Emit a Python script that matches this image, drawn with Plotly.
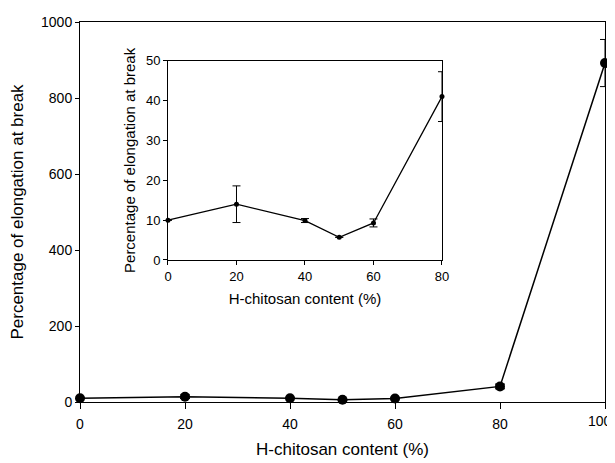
import plotly.graph_objects as go

# Main chart data
content = [0, 20, 40, 50, 60, 80, 100]
elongation = [10, 14, 10, 5.7, 9.4, 41, 892]
elong_err = [0, 4.6, 0.5, 0, 1, 6.25, 62]

# Inset data
inset_content = [0, 20, 40, 50, 60, 80]
inset_elong = [10, 14, 9.9, 5.7, 9.3, 41]
inset_err = [0, 4.6, 0.5, 0, 1, 6.25]

main_ticks_x = [0, 20, 40, 60, 80, 100]
main_ticks_y = [0, 200, 400, 600, 800, 1000]
inset_ticks_x = [0, 20, 40, 60, 80]
inset_ticks_y = [0, 10, 20, 30, 40, 50]

FONT = "Liberation Sans, Arial, sans-serif"

fig = go.Figure()
fig.add_trace(go.Scatter(
    x=content, y=elongation, mode="lines+markers",
    line=dict(color="black", width=1.5),
    marker=dict(color="black", size=10),
    error_y=dict(type="data", array=elong_err, visible=True, color="black", thickness=1, width=5),
    xaxis="x", yaxis="y", showlegend=False, cliponaxis=False,
))
fig.add_trace(go.Scatter(
    x=inset_content, y=inset_elong, mode="lines+markers",
    line=dict(color="black", width=1.3),
    marker=dict(color="black", size=5),
    error_y=dict(type="data", array=inset_err, visible=True, color="black", thickness=1, width=4),
    xaxis="x2", yaxis="y2", showlegend=False, cliponaxis=False,
))

axis_common = dict(showline=True, linecolor="black", linewidth=1, mirror=True,
                   ticks="outside", tickcolor="black", showgrid=False, zeroline=False,
                   automargin=False)

fig.update_layout(
    width=607, height=455,
    margin=dict(l=72, r=10, t=14, b=61),
    paper_bgcolor="white", plot_bgcolor="white",
    font=dict(family=FONT, color="black"),
    xaxis=dict(**axis_common, range=[0, 100], tickvals=main_ticks_x, ticklen=6,
               ticklabelstandoff=3,
               tickfont=dict(size=14), title=dict(text="H-chitosan content (%)", font=dict(size=17), standoff=12),
               domain=[0, 1]),
    yaxis=dict(**axis_common, range=[0, 1000], tickvals=main_ticks_y, ticklen=4,
               tickfont=dict(size=14), title=dict(text="Percentage of elongation at break", font=dict(size=17), standoff=14),
               domain=[0, 1]),
    xaxis2=dict(**axis_common, range=[0, 80], tickvals=inset_ticks_x, ticklen=4,
                tickfont=dict(size=13), title=dict(text="H-chitosan content (%)", font=dict(size=15), standoff=10),
                domain=[0.1676, 0.6895], anchor="y2"),
    yaxis2=dict(**axis_common, range=[0, 50], tickvals=inset_ticks_y, ticklen=4,
                tickfont=dict(size=13), title=dict(text="Percentage of elongation at break", font=dict(size=15), standoff=6),
                domain=[0.3737, 0.898], anchor="x2"),
)

# Last x tick label (hidden by plotly at the figure edge) drawn as an annotation at the tick value
fig.add_annotation(x=main_ticks_x[-1], y=0, xref="x", yref="paper", text=str(main_ticks_x[-1]),
                   showarrow=False, yanchor="top", xanchor="right", yshift=-9, xshift=9,
                   font=dict(size=14, color="black"))

fig.write_html("out.html")
